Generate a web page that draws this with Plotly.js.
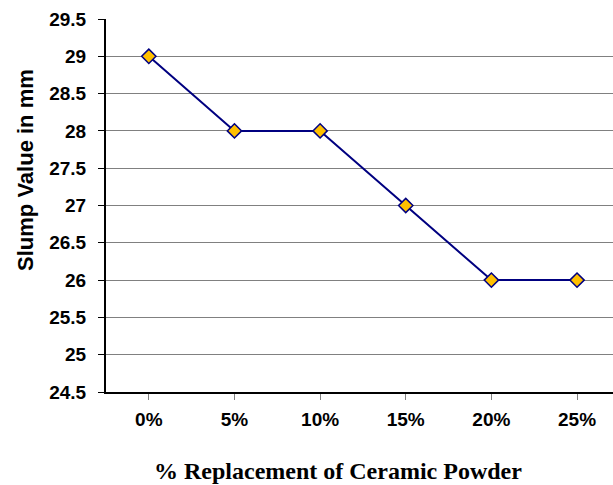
<!DOCTYPE html>
<html><head><meta charset="utf-8">
<script src="https://cdn.plot.ly/plotly-3.0.1.min.js"></script>
<style>html,body{margin:0;padding:0;background:#fff}#chart{width:613px;height:485px}</style>
</head><body><div id="chart"></div>
<script>
const categories = ["0%", "5%", "10%", "15%", "20%", "25%"];
const slumpValues = [29, 28, 28, 27, 26, 26];
const yTickValues = [24.5, 25, 25.5, 26, 26.5, 27, 27.5, 28, 28.5, 29, 29.5];
const yTickLabels = ["24.5", "25", "25.5", "26", "26.5", "27", "27.5", "28", "28.5", "29", "29.5"];
const xTitle = "% Replacement of Ceramic Powder";
const yTitle = "Slump Value in mm";

const trace = {
  x: categories.map((c, i) => i),
  y: slumpValues,
  type: "scatter",
  mode: "lines+markers",
  line: {color: "#000080", width: 2},
  marker: {symbol: "diamond", size: 11, color: "#FFC000", line: {color: "#000080", width: 1.5}},
  hoverinfo: "skip",
  cliponaxis: false
};

const layout = {
  width: 613, height: 485,
  margin: {l: 106, r: 0, t: 19, b: 93},
  paper_bgcolor: "#fff", plot_bgcolor: "#fff",
  showlegend: false,
  xaxis: {
    range: [-0.5, 5.42],
    tickmode: "array",
    tickvals: categories.map((c, i) => i),
    ticktext: categories,
    tickson: "boundaries",
    ticks: "outside", ticklen: 6, tickcolor: "#808080", tickwidth: 1,
    ticklabelstandoff: 3,
    showgrid: false, zeroline: false,
    showline: true, linecolor: "#000", linewidth: 2,
    tickfont: {family: "Liberation Sans, Arial, sans-serif", size: 19, color: "#000", weight: "bold"}
  },
  yaxis: {
    range: [24.5, 29.5],
    tickmode: "array",
    tickvals: yTickValues,
    ticktext: yTickLabels,
    ticks: "outside", ticklen: 6, tickcolor: "#000", tickwidth: 1,
    ticklabelstandoff: 8,
    showgrid: true, gridcolor: "#808080", gridwidth: 1,
    zeroline: false,
    showline: true, linecolor: "#000", linewidth: 2,
    tickfont: {family: "Liberation Sans, Arial, sans-serif", size: 19, color: "#000", weight: "bold"}
  },
  annotations: [
    {text: xTitle, xref: "paper", yref: "paper", x: 0.4576, y: -0.212,
     xanchor: "center", yanchor: "middle", showarrow: false,
     font: {family: "Liberation Serif, Times New Roman, serif", size: 24, color: "#000", weight: "bold"}},
    {text: yTitle, xref: "paper", yref: "paper", x: -0.16, y: 0.595, textangle: -90,
     xanchor: "center", yanchor: "middle", showarrow: false,
     font: {family: "Liberation Sans, Arial, sans-serif", size: 22, color: "#000", weight: "bold"}}
  ]
};

Plotly.newPlot("chart", [trace], layout, {staticPlot: true, displayModeBar: false});
</script>
</body></html>
